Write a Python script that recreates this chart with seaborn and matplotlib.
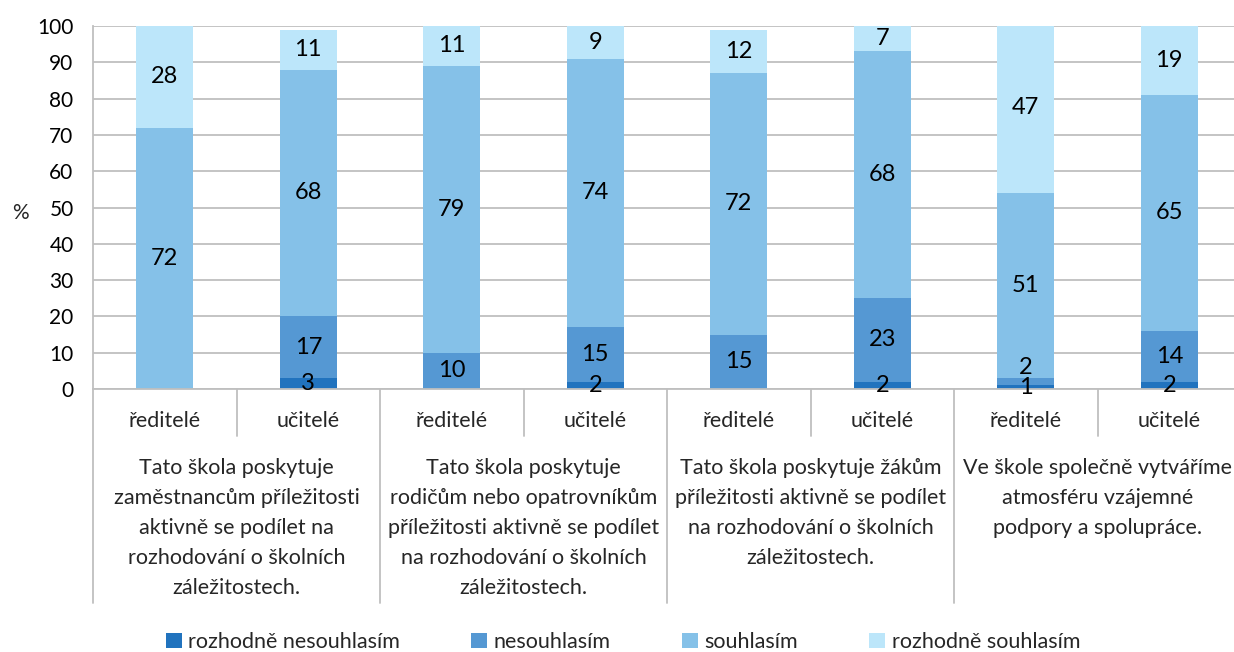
import numpy as np
import pandas as pd
import matplotlib
matplotlib.use("Agg")
import matplotlib.pyplot as plt
from matplotlib.patches import Patch
from matplotlib.transforms import blended_transform_factory
import seaborn as sns

# data (percent)
groups = [
    "Tato škola poskytuje\nzaměstnancům příležitosti\naktivně se podílet na\nrozhodování o školních\nzáležitostech.",
    "Tato škola poskytuje\nrodičům nebo opatrovníkům\npříležitosti aktivně se podílet\nna rozhodování o školních\nzáležitostech.",
    "Tato škola poskytuje žákům\npříležitosti aktivně se podílet\nna rozhodování o školních\nzáležitostech.",
    "Ve škole společně vytváříme\natmosféru vzájemné\npodpory a spolupráce.",
]
roles = ["ředitelé", "učitelé"] * 4
series_names = ["rozhodně nesouhlasím", "nesouhlasím", "souhlasím", "rozhodně souhlasím"]
rozhodne_nesouhlasim = [0, 3, 0, 2, 0, 2, 1, 2]
nesouhlasim = [0, 17, 10, 15, 15, 23, 2, 14]
souhlasim = [72, 68, 79, 74, 72, 68, 51, 65]
rozhodne_souhlasim = [28, 11, 11, 9, 12, 7, 47, 19]
yticks = list(range(0, 101, 10))

colors = ["#2173BE", "#5598D3", "#85C1E8", "#BCE6FA"]
grid_col = "#BFBFBF"
fs = 15.5

sns.set_theme(style="white")
plt.rcParams["font.family"] = ["Lato", "DejaVu Sans"]

df = pd.DataFrame({
    "pos": range(len(roles)),
    "role": roles,
    series_names[0]: rozhodne_nesouhlasim,
    series_names[1]: nesouhlasim,
    series_names[2]: souhlasim,
    series_names[3]: rozhodne_souhlasim,
})
cum = df[series_names].cumsum(axis=1)
for name in series_names:
    df["cum_" + name] = cum[name]

fig = plt.figure(figsize=(12.34, 6.52), dpi=100)
ax = fig.add_axes([93 / 1234, 1 - 389 / 652, 8 * 143.5 / 1234, 363 / 652])

# stacked bars: draw cumulative totals from the top series down
for name, col in reversed(list(zip(series_names, colors))):
    sns.barplot(data=df, x="pos", y="cum_" + name, color=col, saturation=1,
                width=0.4, errorbar=None, linewidth=0, ax=ax)

# segment labels, nudged up a little when tiny segments would collide
for i, row in df.iterrows():
    last = -100
    for name in series_names:
        v = row[name]
        if v <= 0:
            continue
        mid = row["cum_" + name] - v / 2
        mid = max(mid, last + 5.5)
        ax.text(i, mid, f"{v}", ha="center", va="center", fontsize=17, color="black")
        last = mid

ax.set_ylim(0, 100)
ax.set_xlim(-0.5, len(roles) - 0.5)
ax.set_yticks(yticks)
ax.set_yticklabels([str(t) for t in yticks], fontsize=15)
ax.yaxis.grid(True, color=grid_col, lw=1.3)
ax.set_axisbelow(True)
ax.set_xticks([])
ax.set_xlabel("")
ax.set_ylabel("%", rotation=0, fontsize=15, va="center")
ax.yaxis.set_label_coords(-0.063, 0.485)
ax.tick_params(axis="y", length=8, color=grid_col, width=1.3, pad=6, labelcolor="black")
for s in ["top", "right"]:
    ax.spines[s].set_visible(False)
for s in ["left", "bottom"]:
    ax.spines[s].set_color(grid_col)
    ax.spines[s].set_linewidth(1.3)

# two-level category axis
trans = blended_transform_factory(ax.transData, ax.transAxes)
for i, r in enumerate(roles):
    ax.text(i, -0.088, r, transform=trans, ha="center", va="center", fontsize=fs)
for k in range(4):
    ax.plot([2 * k + 0.5] * 2, [0, -0.13], transform=trans, color=grid_col, lw=1.3, clip_on=False)
    ax.plot([2 * k - 0.5] * 2, [0, -0.59], transform=trans, color=grid_col, lw=1.3, clip_on=False)
    ax.text(2 * k + 0.5, -0.19, groups[k], transform=trans, ha="center", va="top",
            fontsize=fs, linespacing=1.62)

handles = [Patch(facecolor=c, edgecolor="none") for c in colors]
fig.legend(handles, series_names, loc="center", bbox_to_anchor=(623 / 1234, 1 - 642 / 652),
           ncol=4, frameon=False, handlelength=0.75, handleheight=0.75, handletextpad=0.3,
           columnspacing=3.3, fontsize=fs, borderpad=0)

fig.savefig("out.png", dpi=100)
